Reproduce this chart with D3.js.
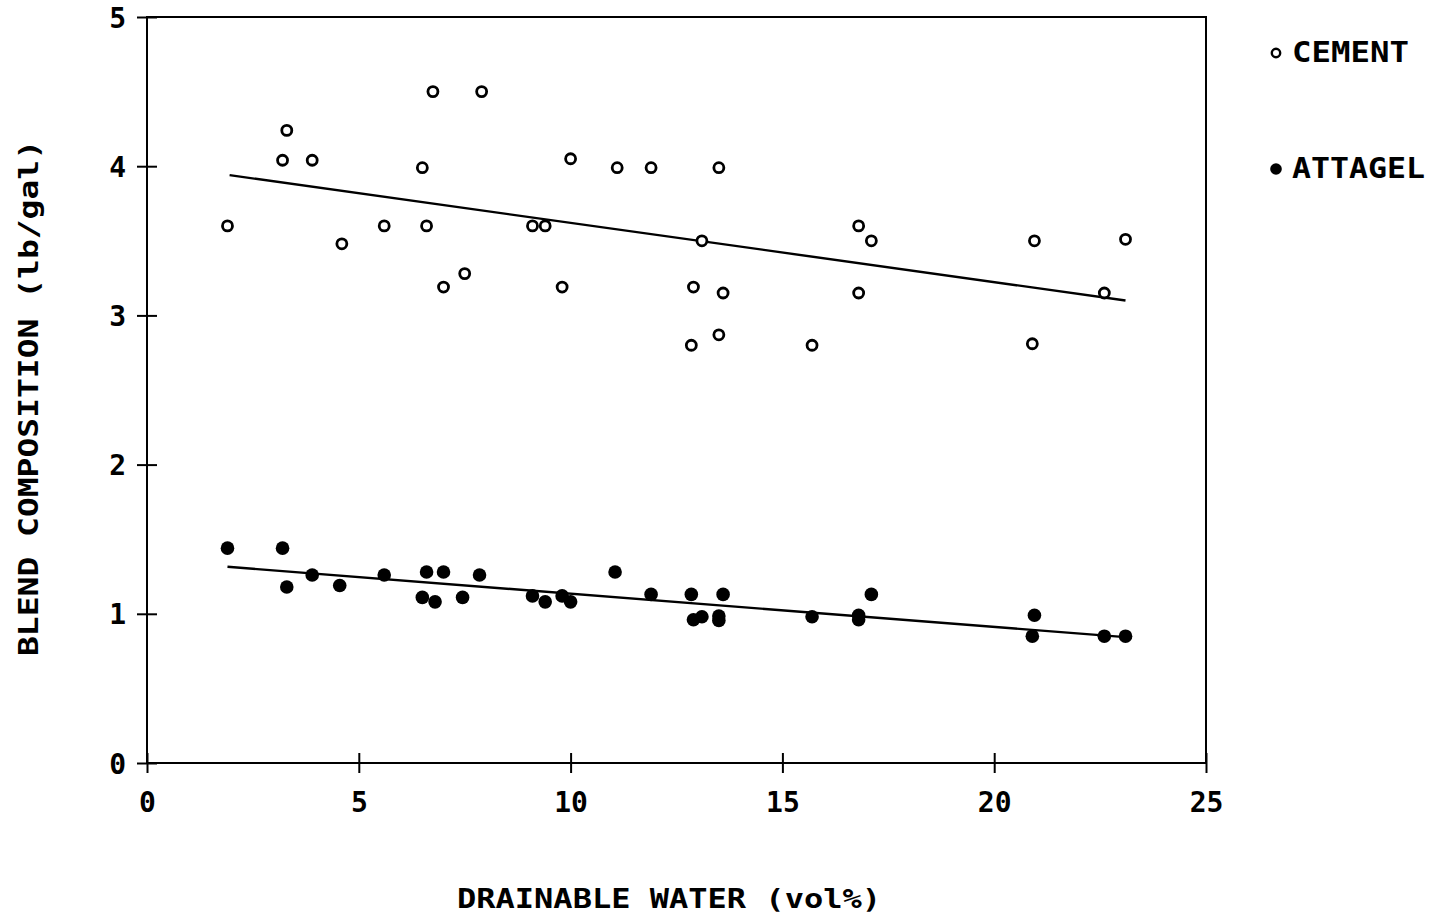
<!DOCTYPE html>
<html>
<head>
<meta charset="utf-8">
<script src="https://cdn.jsdelivr.net/npm/d3@7"></script>
<style>
  html, body { margin: 0; padding: 0; background: #fff; }
  svg { display: block; }
</style>
</head>
<body>
<svg id="chart" width="1435" height="916"></svg>
<script>
// ---- data ----
const cementX   = [1.9, 3.2, 3.3, 3.9, 4.6, 5.6, 6.5, 6.6, 6.75, 7.0, 7.5, 7.9, 9.1, 9.4, 9.8, 10.0, 11.1, 11.9, 12.85, 12.9, 13.1, 13.5, 13.5, 13.6, 15.7, 16.8, 16.8, 17.1, 20.95, 20.9, 22.6, 23.1];
const cementY   = [3.60, 4.04, 4.24, 4.04, 3.48, 3.60, 3.99, 3.60, 4.50, 3.19, 3.28, 4.50, 3.60, 3.60, 3.19, 4.05, 3.99, 3.99, 2.80, 3.19, 3.50, 3.99, 2.87, 3.15, 2.80, 3.60, 3.15, 3.50, 3.50, 2.81, 3.15, 3.51];
const attagelX  = [1.9, 3.2, 3.3, 3.9, 4.55, 5.6, 6.5, 6.6, 6.8, 7.0, 7.45, 7.85, 9.1, 9.4, 9.8, 10.0, 11.05, 11.9, 12.85, 12.9, 13.1, 13.5, 13.5, 13.6, 15.7, 16.8, 16.8, 17.1, 20.95, 20.9, 22.6, 23.1];
const attagelY  = [1.44, 1.44, 1.18, 1.26, 1.19, 1.26, 1.11, 1.28, 1.08, 1.28, 1.11, 1.26, 1.12, 1.08, 1.12, 1.08, 1.28, 1.13, 1.13, 0.96, 0.98, 0.985, 0.955, 1.13, 0.98, 0.99, 0.96, 1.13, 0.99, 0.85, 0.85, 0.85];
const cementFit  = [[1.95, 3.94], [23.1, 3.10]];
const attagelFit = [[1.9, 1.315], [23.25, 0.84]];
const xTicks = [0, 5, 10, 15, 20, 25];
const yTicks = [0, 1, 2, 3, 4, 5];
const seriesNames = ["CEMENT", "ATTAGEL"];
const xTitle = "DRAINABLE WATER  (vol%)";
const yTitle = "BLEND COMPOSITION  (lb/gal)";

// ---- layout ----
const svg = d3.select("#chart");
const pL = 147, pR = 1206, pT = 17, pB = 763;
const x = d3.scaleLinear().domain([0, 25]).range([pL, pR]);
const y = d3.scaleLinear().domain([0, 5]).range([pB, pT]);
const font = "'DejaVu Sans Mono', 'Liberation Mono', monospace";

// frame
svg.append("rect")
  .attr("x", pL).attr("y", pT)
  .attr("width", pR - pL).attr("height", pB - pT)
  .attr("fill", "none").attr("stroke", "#000").attr("stroke-width", 2);

// x axis
const xAxis = svg.append("g").attr("transform", `translate(0,${pB})`)
  .call(d3.axisBottom(x).tickValues(xTicks).tickSize(0).tickFormat(d3.format("d")));
xAxis.select(".domain").remove();
xAxis.selectAll(".tick").append("line")
  .attr("y1", -10).attr("y2", 10).attr("stroke", "#000").attr("stroke-width", 2);
xAxis.selectAll(".tick text")
  .attr("y", 29).attr("dy", "0.71em")
  .attr("font-family", font).attr("font-size", 28).attr("font-weight", "bold").attr("fill", "#000");

// y axis
const yAxis = svg.append("g").attr("transform", `translate(${pL},0)`)
  .call(d3.axisLeft(y).tickValues(yTicks).tickSize(0).tickFormat(d3.format("d")));
yAxis.select(".domain").remove();
yAxis.selectAll(".tick").append("line")
  .attr("x1", -10).attr("x2", 10).attr("stroke", "#000").attr("stroke-width", 2);
yAxis.selectAll(".tick text")
  .attr("x", -21).attr("dy", "0.36em")
  .attr("font-family", font).attr("font-size", 28).attr("font-weight", "bold").attr("fill", "#000");

// fit lines
const line = d3.line().x(d => x(d[0])).y(d => y(d[1]));
[cementFit, attagelFit].forEach(f => {
  svg.append("path").attr("d", line(f))
    .attr("fill", "none").attr("stroke", "#000").attr("stroke-width", 2.4);
});

// points
svg.append("g").selectAll("circle").data(d3.zip(cementX, cementY)).join("circle")
  .attr("cx", d => x(d[0])).attr("cy", d => y(d[1])).attr("r", 5)
  .attr("fill", "#fff").attr("stroke", "#000").attr("stroke-width", 2.8);
svg.append("g").selectAll("circle").data(d3.zip(attagelX, attagelY)).join("circle")
  .attr("cx", d => x(d[0])).attr("cy", d => y(d[1])).attr("r", 6.8)
  .attr("fill", "#000");

// legend
const lg = svg.append("g");
lg.append("circle").attr("cx", 1276).attr("cy", 53).attr("r", 4.2)
  .attr("fill", "#fff").attr("stroke", "#000").attr("stroke-width", 2.4);
lg.append("circle").attr("cx", 1276).attr("cy", 169).attr("r", 5.8).attr("fill", "#000");
lg.append("text").attr("x", 1292).attr("y", 52).attr("dy", "0.36em")
  .attr("font-family", font).attr("font-size", 28).attr("font-weight", "bold").attr("textLength", 117)
  .attr("lengthAdjust", "spacingAndGlyphs").text(seriesNames[0]);
lg.append("text").attr("x", 1292).attr("y", 168).attr("dy", "0.36em")
  .attr("font-family", font).attr("font-size", 28).attr("font-weight", "bold").attr("textLength", 133)
  .attr("lengthAdjust", "spacingAndGlyphs").text(seriesNames[1]);

// titles
svg.append("text").attr("x", 457).attr("y", 898).attr("dy", "0.36em")
  .attr("font-family", font).attr("font-size", 27).attr("font-weight", "bold").attr("textLength", 424)
  .attr("lengthAdjust", "spacingAndGlyphs").text(xTitle);
svg.append("text").attr("transform", "translate(28,656) rotate(-90)")
  .attr("dy", "0.36em")
  .attr("font-family", font).attr("font-size", 27).attr("font-weight", "bold").attr("textLength", 516)
  .attr("lengthAdjust", "spacingAndGlyphs").text(yTitle);
</script>
</body>
</html>
